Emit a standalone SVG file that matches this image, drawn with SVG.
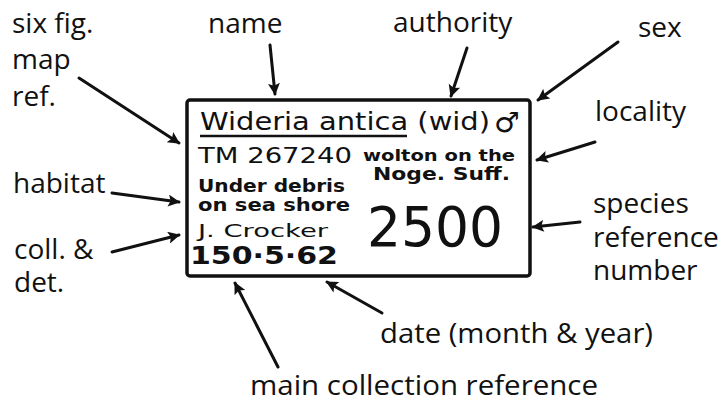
<svg xmlns="http://www.w3.org/2000/svg" width="722" height="410" viewBox="0 0 722 410">
<style>
.lbl{font-family:"Open Sans","DejaVu Sans",sans-serif;font-size:28px;fill:#111}
.hw{font-family:"DejaVu Sans","Liberation Sans",sans-serif;fill:#111}
.b{font-weight:bold}
.ln{stroke:#111;stroke-width:3;fill:none;stroke-linecap:round}
</style>
<defs>
<marker id="ah" viewBox="0 0 10 10" refX="9" refY="5" markerWidth="4.5" markerHeight="4" orient="auto" markerUnits="strokeWidth">
<path d="M0,0 L10,5 L0,10 L2,5 z" fill="#111"/>
</marker>
</defs>
<rect width="722" height="410" fill="#fff"/>
<g id="label-card">
<rect x="187" y="100" width="343" height="176" rx="3" fill="#fff" stroke="#111" stroke-width="3.5"/>
<text class="hw" x="200" y="130" font-size="25" textLength="290" lengthAdjust="spacingAndGlyphs">Wideria antica (wid)</text>
<text class="hw b" x="494" y="132" font-size="28" textLength="26" lengthAdjust="spacingAndGlyphs">♂</text>
<line x1="200" y1="136" x2="407" y2="136" stroke="#111" stroke-width="2.5"/>
<text class="hw" x="198" y="163" font-size="21" textLength="154" lengthAdjust="spacingAndGlyphs">TM 267240</text>
<text class="hw b" x="363" y="161" font-size="16" textLength="152" lengthAdjust="spacingAndGlyphs">wolton on the</text>
<text class="hw b" x="373" y="180" font-size="17" textLength="137" lengthAdjust="spacingAndGlyphs">Noge. Suff.</text>
<text class="hw b" x="198" y="192" font-size="18" textLength="147" lengthAdjust="spacingAndGlyphs">Under debris</text>
<text class="hw b" x="198" y="211" font-size="18" textLength="152" lengthAdjust="spacingAndGlyphs">on sea shore</text>
<text class="hw" x="198" y="237" font-size="18" textLength="130" lengthAdjust="spacingAndGlyphs">J. Crocker</text>
<text class="hw b" x="190" y="264" font-size="24" textLength="148" lengthAdjust="spacingAndGlyphs">150·5·62</text>
<text class="hw" x="367" y="246" font-size="56" textLength="136" lengthAdjust="spacingAndGlyphs">2500</text>
</g>
<g id="lbl-sixfig"><text class="lbl" x="12" y="33">six fig.</text><text class="lbl" x="12" y="69">map</text><text class="lbl" x="12" y="106">ref.</text></g>
<g id="lbl-habitat"><text class="lbl" x="13" y="193">habitat</text></g>
<g id="lbl-coll"><text class="lbl" x="14" y="259">coll. &amp;</text><text class="lbl" x="14" y="292">det.</text></g>
<g id="lbl-name"><text class="lbl" x="208" y="33">name</text></g>
<g id="lbl-authority"><text class="lbl" x="393" y="32">authority</text></g>
<g id="lbl-sex"><text class="lbl" x="638" y="37">sex</text></g>
<g id="lbl-locality"><text class="lbl" x="595" y="121">locality</text></g>
<g id="lbl-species"><text class="lbl" x="593" y="213">species</text><text class="lbl" x="593" y="247">reference</text><text class="lbl" x="593" y="280">number</text></g>
<g id="lbl-date"><text class="lbl" x="380" y="343" textLength="273" lengthAdjust="spacingAndGlyphs">date (month &amp; year)</text></g>
<g id="lbl-main"><text class="lbl" x="250" y="395" textLength="348" lengthAdjust="spacingAndGlyphs">main collection reference</text></g>
<g id="connectors">
<line class="ln" x1="79" y1="78" x2="179" y2="143" marker-end="url(#ah)"/>
<line class="ln" x1="112" y1="193" x2="179" y2="202" marker-end="url(#ah)"/>
<line class="ln" x1="112" y1="252" x2="179" y2="235" marker-end="url(#ah)"/>
<line class="ln" x1="270" y1="45" x2="275" y2="94" marker-end="url(#ah)"/>
<line class="ln" x1="467" y1="48" x2="451" y2="96" marker-end="url(#ah)"/>
<line class="ln" x1="618" y1="42" x2="538" y2="100" marker-end="url(#ah)"/>
<line class="ln" x1="595" y1="142" x2="537" y2="160" marker-end="url(#ah)"/>
<line class="ln" x1="580" y1="222" x2="533" y2="227" marker-end="url(#ah)"/>
<line class="ln" x1="382" y1="313" x2="327" y2="282" marker-end="url(#ah)"/>
<line class="ln" x1="278" y1="367" x2="235" y2="283" marker-end="url(#ah)"/>
</g>
</svg>
